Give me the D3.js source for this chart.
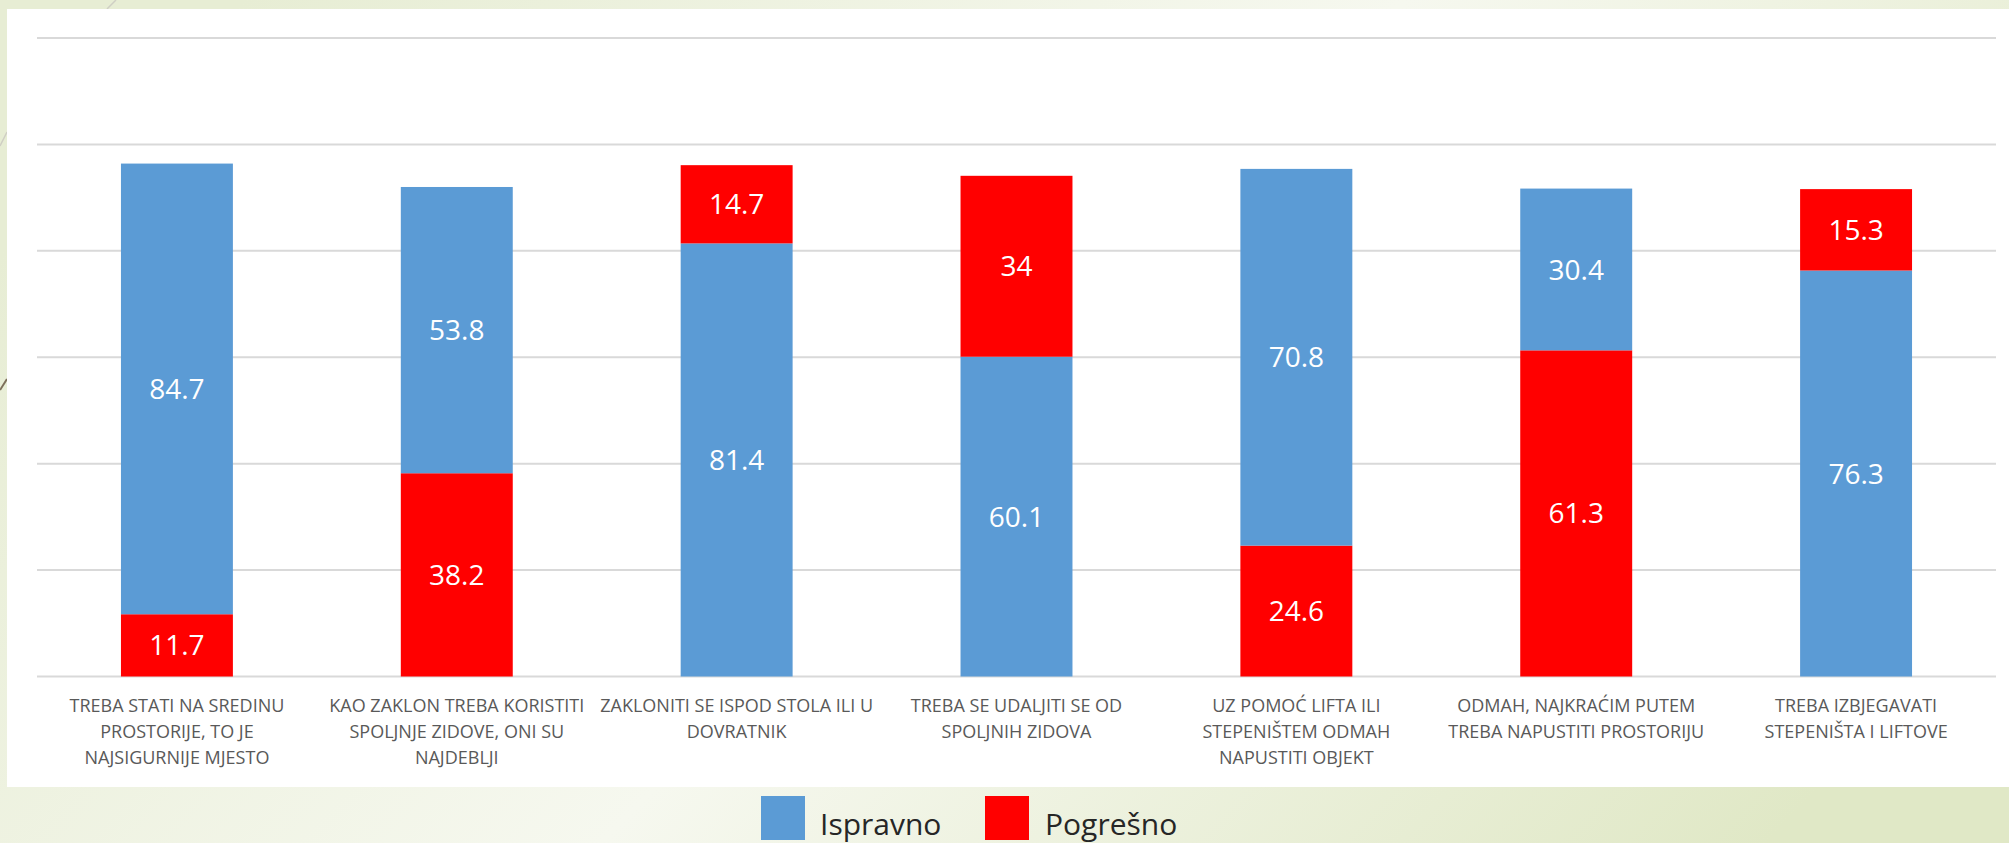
<!DOCTYPE html>
<html>
<head>
<meta charset="utf-8">
<script src="https://cdn.jsdelivr.net/npm/d3@7"></script>
<style>
  html, body { margin: 0; padding: 0; overflow: hidden; }
  text { font-family: "Open Sans", "Noto Sans", sans-serif; }
</style>
</head>
<body>
<svg id="chart"></svg>
<script>
// categories, already wrapped the way the slide wraps them
const categories = [
  ['TREBA STATI NA SREDINU', 'PROSTORIJE, TO JE', 'NAJSIGURNIJE MJESTO'],
  ['KAO ZAKLON TREBA KORISTITI', 'SPOLJNJE ZIDOVE, ONI SU', 'NAJDEBLJI'],
  ['ZAKLONITI SE ISPOD STOLA ILI U', 'DOVRATNIK'],
  ['TREBA SE UDALJITI SE OD', 'SPOLJNIH ZIDOVA'],
  ['UZ POMOĆ LIFTA ILI', 'STEPENIŠTEM ODMAH', 'NAPUSTITI OBJEKT'],
  ['ODMAH, NAJKRAĆIM PUTEM', 'TREBA NAPUSTITI PROSTORIJU'],
  ['TREBA IZBJEGAVATI', 'STEPENIŠTA I LIFTOVE']
];
const ispravno = [84.7, 53.8, 81.4, 60.1, 70.8, 30.4, 76.3];
const pogresno = [11.7, 38.2, 14.7, 34, 24.6, 61.3, 15.3];
// which series sits at the bottom of each stack
const bottomSeries = ['P', 'P', 'I', 'I', 'P', 'P', 'I'];
const yTicks = [0, 20, 40, 60, 80, 100, 120];
const seriesNames = { I: 'Ispravno', P: 'Pogrešno' };

const W = 2009, H = 843;
const colors = { I: '#5b9bd5', P: '#ff0000' };

const svg = d3.select('#chart').attr('width', W).attr('height', H);

// slide background
const defs = svg.append('defs');
const grad = defs.append('linearGradient')
  .attr('id', 'bg').attr('x1', '0%').attr('y1', '30%').attr('x2', '100%').attr('y2', '70%');
grad.append('stop').attr('offset', '0%').attr('stop-color', '#e7edd4');
grad.append('stop').attr('offset', '50%').attr('stop-color', '#f6f8ef');
grad.append('stop').attr('offset', '100%').attr('stop-color', '#e0e8c6');
svg.append('rect').attr('width', W).attr('height', H).attr('fill', 'url(#bg)');

// small decorative strokes of the slide theme
svg.append('line').attr('x1', 116).attr('y1', 0).attr('x2', 107).attr('y2', 9)
  .attr('stroke', '#cfcfc4').attr('stroke-width', 1.5);
svg.append('line').attr('x1', 0).attr('y1', 146).attr('x2', 7).attr('y2', 132)
  .attr('stroke', '#cfcfc4').attr('stroke-width', 1.5);
svg.append('line').attr('x1', 0).attr('y1', 390).attr('x2', 7).attr('y2', 379)
  .attr('stroke', '#7d705a').attr('stroke-width', 2);

// white chart area
svg.append('rect').attr('x', 7).attr('y', 9).attr('width', W - 7).attr('height', 778)
  .attr('fill', '#ffffff');

const x = d3.scaleBand()
  .domain(d3.range(categories.length))
  .range([37, 1996])
  .paddingInner(0.6)
  .paddingOuter(0.3);

const y = d3.scaleLinear().domain([0, 120]).range([676.5, 38]);

// gridlines
svg.append('g')
  .selectAll('line')
  .data(yTicks)
  .enter()
  .append('line')
  .attr('x1', 37).attr('x2', 1996)
  .attr('y1', d => y(d)).attr('y2', d => y(d))
  .attr('stroke', '#d9d9d9')
  .attr('stroke-width', 2);

// build stacks
const segments = [];
categories.forEach((c, i) => {
  const order = bottomSeries[i] === 'P' ? ['P', 'I'] : ['I', 'P'];
  let base = 0;
  order.forEach(s => {
    const v = s === 'I' ? ispravno[i] : pogresno[i];
    segments.push({ i: i, s: s, y0: base, y1: base + v, v: v });
    base += v;
  });
});

const bars = svg.append('g');
bars.selectAll('rect')
  .data(segments)
  .enter()
  .append('rect')
  .attr('x', d => x(d.i))
  .attr('width', x.bandwidth())
  .attr('y', d => y(d.y1))
  .attr('height', d => y(d.y0) - y(d.y1))
  .attr('fill', d => colors[d.s]);

bars.selectAll('text')
  .data(segments)
  .enter()
  .append('text')
  .attr('x', d => x(d.i) + x.bandwidth() / 2)
  .attr('y', d => (y(d.y0) + y(d.y1)) / 2)
  .attr('dy', '0.36em')
  .attr('text-anchor', 'middle')
  .attr('fill', '#ffffff')
  .attr('font-size', 28)
  .text(d => d.v);

// category labels
const labels = svg.append('g')
  .selectAll('text')
  .data(categories)
  .enter()
  .append('text')
  .attr('text-anchor', 'middle')
  .attr('fill', '#595959')
  .attr('font-size', 18)
  .attr('transform', (d, i) => 'translate(' + (x(i) + x.bandwidth() / 2) + ',712)');

labels.selectAll('tspan')
  .data(d => d)
  .enter()
  .append('tspan')
  .attr('x', 0)
  .attr('y', (d, j) => j * 26)
  .text(d => d);

// legend
const legend = svg.append('g')
  .selectAll('g')
  .data(['I', 'P'])
  .enter()
  .append('g')
  .attr('transform', (d, i) => 'translate(' + (i === 0 ? 761 : 985) + ',796)');

legend.append('rect')
  .attr('width', 44).attr('height', 44)
  .attr('fill', d => colors[d]);

legend.append('text')
  .attr('x', d => d === 'I' ? 59 : 60)
  .attr('y', 39)
  .attr('font-size', 30)
  .attr('fill', '#262626')
  .text(d => seriesNames[d]);
</script>
</body>
</html>
